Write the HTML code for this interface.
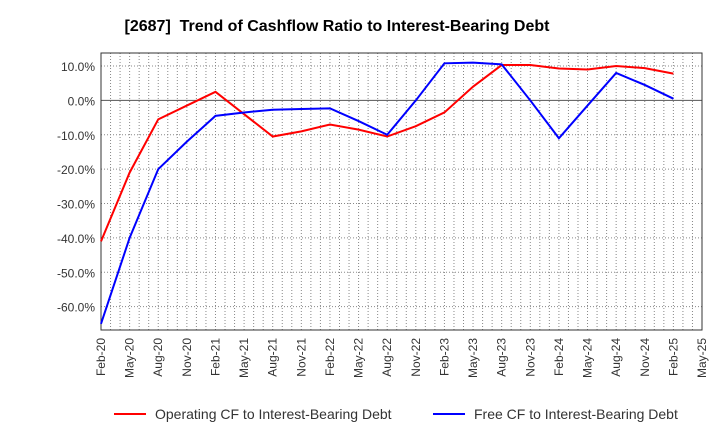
<!DOCTYPE html>
<html><head><meta charset="utf-8"><style>body{margin:0;background:#fff}svg{display:block;font-family:"Liberation Sans",sans-serif}</style></head>
<body>
<svg id="c" width="720" height="440">
<text x="337" y="31" text-anchor="middle" font-size="16" font-weight="bold">[2687]&#160;&#160;Trend of Cashflow Ratio to Interest-Bearing Debt</text>
<g id="grid"></g><g id="axes"></g><g id="series"></g>
<g>
<line x1="114" y1="414" x2="146" y2="414" stroke="#f00" stroke-width="2"/>
<text x="155" y="419" font-size="14" fill="#333">Operating CF to Interest-Bearing Debt</text>
<line x1="433" y1="414" x2="465" y2="414" stroke="#00f" stroke-width="2"/>
<text x="474" y="419" font-size="14" fill="#333">Free CF to Interest-Bearing Debt</text>
</g>
</svg>
<script>
const categories=["Feb-20","May-20","Aug-20","Nov-20","Feb-21","May-21","Aug-21","Nov-21","Feb-22","May-22","Aug-22","Nov-22","Feb-23","May-23","Aug-23","Nov-23","Feb-24","May-24","Aug-24","Nov-24","Feb-25","May-25"];
const operatingCF=[-41,-21,-5.5,-1.5,2.5,-4,-10.5,-9,-7,-8.5,-10.5,-7.5,-3.5,4,10.3,10.3,9.3,9,10,9.4,7.8];
const freeCF=[-65,-40,-20,-12,-4.5,-3.5,-2.7,-2.5,-2.3,-6,-10,0,10.8,11,10.5,0,-11,-1.5,8,4.5,0.5];
const yTicks=[10,0,-10,-20,-30,-40,-50,-60];
const L=101,R=702,T=53,B=330,yMax=13.8,yMin=-66.8;
const NS="http://www.w3.org/2000/svg";
const xs=i=>L+(R-L)*i/(categories.length-1);
const ys=v=>T+(yMax-v)/(yMax-yMin)*(B-T);
function mk(t,a,p){const e=document.createElementNS(NS,t);for(const k in a)e.setAttribute(k,a[k]);p.appendChild(e);return e;}
const g=document.getElementById('grid'),ax=document.getElementById('axes'),s=document.getElementById('series');
for(let m=1;m<(categories.length-1)*3;m++){const x=L+(R-L)*m/((categories.length-1)*3);mk('line',{x1:x,x2:x,y1:T,y2:B,stroke:'#888','stroke-dasharray':'1,2'},g);}
yTicks.forEach(v=>{const y=ys(v);
const ln=mk('line',{x1:L,x2:R,y1:y,y2:y,stroke:v===0?'#555':'#888','stroke-dasharray':v===0?'':'1,2'},g);

const t=mk('text',{x:L-6,y:y+5,'text-anchor':'end','font-size':12,fill:'#333'},ax);t.textContent=v.toFixed(1)+'%';
});
const fr=mk('rect',{x:L,y:T,width:R-L,height:B-T,fill:'none',stroke:'#333'},ax);

categories.forEach((c,i)=>{const x=xs(i);const t=mk('text',{transform:`translate(${x+4},${B+8}) rotate(-90)`,'text-anchor':'end','font-size':12,fill:'#333'},ax);t.textContent=c;
});
[[operatingCF,'#f00','operating-cf-line'],[freeCF,'#00f','free-cf-line']].forEach(([d,col,n])=>{
const p=mk('polyline',{points:d.map((v,i)=>xs(i)+','+ys(v)).join(' '),fill:'none',stroke:col,'stroke-width':2},s);
});
</script>
</body></html>
